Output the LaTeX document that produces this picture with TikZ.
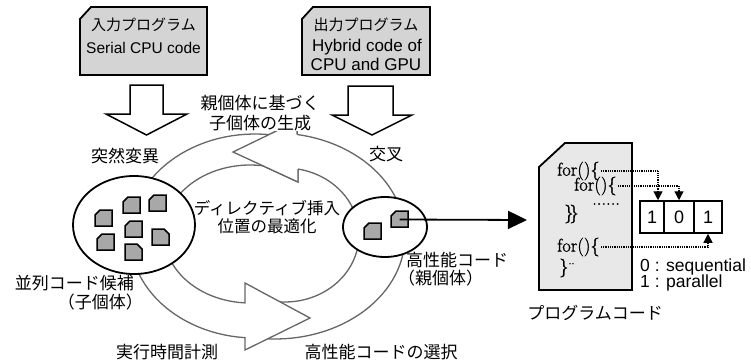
\documentclass[tikz,border=0pt]{standalone}
\usepackage{fontspec}
\newfontfamily\jp{Noto Sans CJK JP}
\newfontfamily\arl{Liberation Sans}
\newfontfamily\codefont{Latin Modern Roman}[FakeBold=1.2]
\usetikzlibrary{arrows.meta,shapes.geometric}
\definecolor{cardgray}{gray}{0.83}
\definecolor{codegray}{gray}{0.91}
\definecolor{sqgray}{gray}{0.66}
\definecolor{ringgray}{gray}{0.40}
\newcommand\cardTL[2]{\draw[sqbox] (#1,#2+5) -- (#1+5,#2) -- (#1+17,#2) -- (#1+17,#2+16) -- (#1,#2+16) -- cycle;}
\newcommand\cardTR[2]{\draw[sqbox] (#1,#2) -- (#1+12,#2) -- (#1+17,#2+5) -- (#1+17,#2+16) -- (#1,#2+16) -- cycle;}
\begin{document}
\begin{tikzpicture}[x=1pt,y=-1pt,
  ring/.style={fill=white, draw=ringgray, line width=1.3pt, line join=miter},
  ringline/.style={draw=ringgray, line width=1.3pt, line join=miter},
  card/.style={fill=cardgray, draw=black, line width=1.8pt},
  blk/.style={fill=white, draw=black, line width=1.5pt, line join=miter},
  pool/.style={ellipse, draw=black, fill=white, line width=1.8pt, inner sep=0pt},
  sqbox/.style={fill=sqgray, draw=black, line width=1.5pt},
  lbl/.style={font=\jp\fontsize{17}{20}\selectfont, inner sep=0pt},
  ttl/.style={font=\jp\fontsize{15}{15}\selectfont, inner sep=0pt},
  lat/.style={font=\arl\fontsize{15.5}{15.5}\selectfont, inner sep=0pt},
  latb/.style={font=\arl\fontsize{17}{17}\selectfont, inner sep=0pt},
  code/.style={font=\codefont\fontsize{18.5}{18.5}\selectfont, anchor=west, inner sep=1pt},
  cell/.style={draw=black, line width=1.5pt, minimum height=32pt, inner sep=0pt, font=\arl\fontsize{18}{18}\selectfont},
  leg/.style={font=\arl\fontsize{17.5}{17.5}\selectfont, anchor=west, inner sep=0pt},
  dotline/.style={draw=black, line width=1.3pt, dash pattern=on 1pt off 0.8pt, -{Triangle[length=9pt,width=9pt]}},
  bigarrow/.style={draw=black, line width=1.8pt, -{Triangle[length=19pt,width=18pt]}}
]
\useasboundingbox (0,0) rectangle (751,361);
\fill[white] (0,0) rectangle (751,361);

% top cards
\draw[card] (80,19) -- (91,7) -- (207,7) -- (207,75) -- (80,75) -- cycle;
\node[ttl] (inT) at (143.5,25) {入力プログラム};
\node[lat] (inS) at (143.5,48) {Serial CPU code};
\draw[card] (302,19) -- (313,7) -- (430,7) -- (430,75) -- (302,75) -- cycle;
\node[ttl] (outT) at (366,25) {出力プログラム};
\node[latb] (outS1) at (367,47) {Hybrid code of};
\node[latb] (outS2) at (366,64) {CPU and GPU};

% block arrows
\draw[blk] (130,85) -- (163,85) -- (163,114) -- (187,114) -- (146.5,135) -- (106,114) -- (130,114) -- cycle;
\draw[blk] (348,86) -- (393,86) -- (393,115) -- (412,115) -- (372,135) -- (332,115) -- (348,115) -- cycle;

% ring arrow T (right / top)
\path[ring] plot[domain=97.5:-80.2, samples=60] ({275+130*cos(\x)},{236+103*sin(\x)})
  -- (297.1,121) -- (233,152) -- (298,182)
  -- plot[domain=-79.9:111.4, samples=60] ({285+74*cos(\x)},{235+67*sin(\x)}) -- cycle;
% ring arrow B (left / bottom)
\path[ring] plot[domain=-78.5:-265.4, samples=60] ({255+125*cos(\x)},{236+102*sin(\x)})
  -- (245,350) -- (310,318) -- (245,283)
  -- plot[domain=-266.7:-69.6, samples=60] ({250+86*cos(\x)},{234+69*sin(\x)}) -- cycle;
% head of T over the tail of B
\fill[white] (297.1,121) -- (233,152) -- (298,182) -- cycle;
\draw[ringline] (297.1,134.5) -- (297.1,121) -- (233,152) -- (298,182) -- (298,169);

% pools
\node[pool, minimum width=122pt, minimum height=98pt] (cand) at (134,225) {};
\cardTL{95}{210}
\cardTL{123}{197}
\cardTL{149}{195}
\cardTL{125}{221}
\cardTL{97}{234}
\cardTR{152}{229}
\cardTR{125}{244}
\node[pool, minimum width=84pt, minimum height=60pt] (elite) at (385,227) {};
\cardTL{364}{223}
\cardTL{391}{211}
\coordinate (sqB) at (399.5,219.5);

% labels
\node[lbl, fill=white, inner sep=0.5pt, align=center] (gen) at (260,113) {親個体に基づく\\子個体の生成};
\node[lbl] (mut) at (125,156) {突然変異};
\node[lbl] (cross) at (386,154) {交叉};
\node[lbl, font=\jp\fontsize{16.5}{18}\selectfont, align=center] (opt) at (267,217) {ディレクティブ挿入\\位置の最適化};
\node[lbl, font=\jp\fontsize{17}{19}\selectfont, align=right, anchor=east] (child) at (134,292.5) {並列コード候補\\（子個体）\hspace*{-9pt}};
\node[lbl, font=\jp\fontsize{17}{18}\selectfont, align=left, anchor=west] (parent) at (406,269) {高性能コード\\\hspace*{-8pt}（親個体）};
\node[lbl] (meas) at (167,352) {実行時間計測};
\node[lbl] (sel) at (381,352) {高性能コードの選択};

% program code card
\draw[fill=codegray, draw=black, line width=1.8pt] (539,167) -- (565,143) -- (632,143) -- (632,290) -- (539,290) -- cycle;
\coordinate (cardL) at (527,220);
\node[code] (l1) at (556,171) {for()\{};
\node[code] (l2) at (573,186) {for()\{};
\node[code] (dots) at (591,204) {......};
\node[code] (cl) at (563,214) {\}\kern-4pt\}};
\node[code] (l3) at (556,247) {for()\{};
\node[code] (cl2) at (558,268) {\}\raisebox{0.45em}{\fontsize{11}{11}\selectfont..}};
\node[lbl] (prog) at (595,313) {プログラムコード};

% bit cells
\node[cell, minimum width=24pt] (c1) at (652,217) {1};
\node[cell, minimum width=30pt] (c2) at (679,217) {0};
\node[cell, minimum width=28pt] (c3) at (708,217) {1};
\node[leg] (leg0) at (640,266.5) {0 : sequential};
\node[leg] (leg1) at (640,282.5) {1 : parallel};

% connectors
\draw[dotline] (l1.east) -| ([xshift=6pt]c1.north);
\draw[dotline] (l2.east) -| (c2.north);
\draw[dotline] (l3.east) -| (c3.south);
\draw[bigarrow] (sqB) -- (cardL);
\end{tikzpicture}
\end{document}
